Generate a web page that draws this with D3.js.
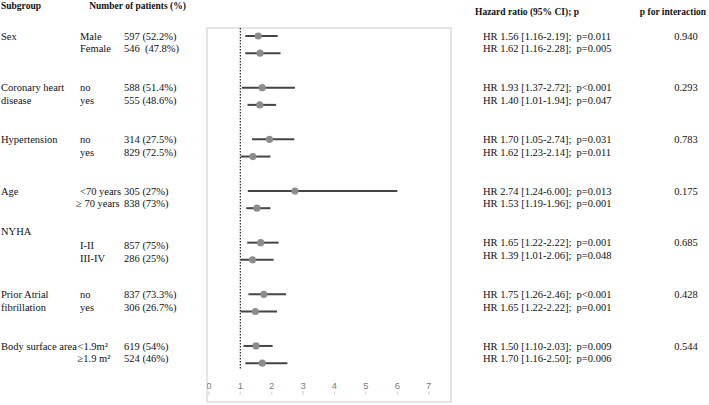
<!DOCTYPE html>
<html>
<head>
<meta charset="utf-8">
<script src="https://cdn.jsdelivr.net/npm/d3@7"></script>
<style>
  body { margin: 0; background: #fff; }
  text { font-family: "Liberation Serif", "Times New Roman", serif; fill: #111; }
  .hdr { font-weight: 700; font-size: 9.5px; }
  .body { font-size: 10.5px; }
  .tick-label { font-family: "Liberation Sans", Arial, sans-serif; font-size: 9.5px; fill: #7c7c7c; }
</style>
</head>
<body>
<svg id="chart" width="709" height="405"></svg>
<script>
// Subgruppernas rubriker (en rad per element)
const groupLabels = [
  ["Sex"],
  ["Coronary heart", "disease"],
  ["Hypertension"],
  ["Age"],
  ["NYHA"],
  ["Prior Atrial", "fibrillation"],
  ["Body surface area"]
];
const levelLabels = [
  ["Male", "Female"],
  ["no", "yes"],
  ["no", "yes"],
  ["<70 years", "\u2265 70 years"],
  ["I-II", "III-IV"],
  ["no", "yes"],
  ["<1.9m\u00b2", "\u22651.9 m\u00b2"]
];
const patientCounts = [
  ["597 (52.2%)", "546  (47.8%)"],
  ["588 (51.4%)", "555 (48.6%)"],
  ["314 (27.5%)", "829 (72.5%)"],
  ["305 (27%)", "838 (73%)"],
  ["857 (75%)", "286 (25%)"],
  ["837 (73.3%)", "306 (26.7%)"],
  ["619 (54%)", "524 (46%)"]
];
const hrTexts = [
  ["HR 1.56 [1.16-2.19];  p=0.011", "HR 1.62 [1.16-2.28];  p=0.005"],
  ["HR 1.93 [1.37-2.72];  p<0.001", "HR 1.40 [1.01-1.94];  p=0.047"],
  ["HR 1.70 [1.05-2.74];  p=0.031", "HR 1.62 [1.23-2.14];  p=0.011"],
  ["HR 2.74 [1.24-6.00];  p=0.013", "HR 1.53 [1.19-1.96];  p=0.001"],
  ["HR 1.65 [1.22-2.22];  p=0.001", "HR 1.39 [1.01-2.06];  p=0.048"],
  ["HR 1.75 [1.26-2.46];  p<0.001", "HR 1.65 [1.22-2.22];  p=0.001"],
  ["HR 1.50 [1.10-2.03];  p=0.009", "HR 1.70 [1.16-2.50];  p=0.006"]
];
const pInteraction = ["0.940", "0.293", "0.783", "0.175", "0.685", "0.428", "0.544"];

// Värden som de är ritade i diagrammet
const hrPoint = [1.57, 1.63, 1.70, 1.62, 1.93, 1.40, 2.74, 1.53, 1.65, 1.39, 1.75, 1.48, 1.50, 1.70];
const ciLower = [1.16, 1.16, 1.05, 1.23, 1.37, 1.01, 1.24, 1.19, 1.22, 1.01, 1.26, 1.01, 1.10, 1.16];
const ciUpper = [2.19, 2.28, 2.74, 2.14, 2.72, 1.96, 6.00, 1.96, 2.22, 2.06, 2.46, 2.17, 2.03, 2.50];
const xTicks = [0, 1, 2, 3, 4, 5, 6, 7];

const svg = d3.select("#chart");
svg.append("rect").attr("width", 709).attr("height", 405).attr("fill", "#fff");

const box = { x0: 207, y0: 28, x1: 451, y1: 402 };
const x = d3.scaleLinear().domain([0, 7]).range([208.9, 428.7]);
// 3 platser per grupp: två rader + mellanrum
const y = d3.scaleLinear().domain([0, 20]).range([36, 36 + 17.22 * 20]);
const lineGap = 12.8;

// Rubriker
svg.append("text").attr("class", "hdr").attr("x", 1).attr("y", 8.5).text("Subgroup");
svg.append("text").attr("class", "hdr").attr("x", 137.5).attr("y", 8.5)
  .attr("text-anchor", "middle").text("Number of patients (%)");
svg.append("text").attr("class", "hdr").attr("x", 527).attr("y", 15)
  .attr("text-anchor", "middle").text("Hazard ratio (95% CI); p");
svg.append("text").attr("class", "hdr").attr("x", 673).attr("y", 15)
  .attr("text-anchor", "middle").text("p for interaction");

// Textkolumner
groupLabels.forEach((lines, g) => {
  const base = y(g * 3);
  const isNyha = lines[0] === "NYHA";
  const rowBase = isNyha ? base + 2.5 : base;

  lines.forEach((t, k) => {
    svg.append("text").attr("class", "body")
      .attr("x", 1).attr("y", (isNyha ? base - 11.5 : base) + k * lineGap)
      .attr("dy", "0.35em").text(t);
  });

  levelLabels[g].forEach((t, k) => {
    let lx = 80;
    if (t.startsWith("\u2265 70")) lx = 76;
    if (t.includes("1.9")) lx = 77.5;
    svg.append("text").attr("class", "body")
      .attr("x", lx).attr("y", rowBase + k * lineGap)
      .attr("dy", "0.35em").text(t);
  });

  patientCounts[g].forEach((t, k) => {
    svg.append("text").attr("class", "body").style("white-space", "pre")
      .attr("x", 124).attr("y", rowBase + k * lineGap)
      .attr("dy", "0.35em").text(t);
  });

  hrTexts[g].forEach((t, k) => {
    svg.append("text").attr("class", "body").style("white-space", "pre")
      .attr("x", 483).attr("y", base + k * lineGap)
      .attr("dy", "0.35em").text(t);
  });

  svg.append("text").attr("class", "body")
    .attr("x", 686).attr("y", base)
    .attr("text-anchor", "middle").attr("dy", "0.35em").text(pInteraction[g]);
});

// Diagramram
svg.append("defs").append("clipPath").attr("id", "plot-clip")
  .append("rect").attr("x", box.x0).attr("y", box.y0)
  .attr("width", box.x1 - box.x0).attr("height", box.y1 - box.y0);

svg.append("rect")
  .attr("x", box.x0).attr("y", box.y0)
  .attr("width", box.x1 - box.x0).attr("height", box.y1 - box.y0)
  .attr("fill", "none").attr("stroke", "#d4d4d4").attr("stroke-width", 1.2);

const plot = svg.append("g").attr("clip-path", "url(#plot-clip)");

// Referenslinje vid HR = 1
plot.append("line")
  .attr("x1", x(1)).attr("x2", x(1))
  .attr("y1", box.y0).attr("y2", 370)
  .attr("stroke", "#111").attr("stroke-width", 1.1)
  .attr("stroke-dasharray", "1.6,1.4");

const rowIdx = hrPoint.map((_, i) => Math.floor(i / 2) * 3 + (i % 2));

plot.selectAll("line.ci")
  .data(hrPoint)
  .join("line")
  .attr("class", "ci")
  .attr("x1", (d, i) => x(ciLower[i]))
  .attr("x2", (d, i) => x(ciUpper[i]))
  .attr("y1", (d, i) => y(rowIdx[i]))
  .attr("y2", (d, i) => y(rowIdx[i]))
  .attr("stroke", "#444").attr("stroke-width", 2);

plot.selectAll("circle.hr")
  .data(hrPoint)
  .join("circle")
  .attr("class", "hr")
  .attr("cx", d => x(d))
  .attr("cy", (d, i) => y(rowIdx[i]))
  .attr("r", 3.6)
  .attr("fill", "#8c8c8c");

// X-axelns etiketter
plot.selectAll("text.tick-label")
  .data(xTicks)
  .join("text")
  .attr("class", "tick-label")
  .attr("x", d => x(d))
  .attr("y", 389)
  .attr("text-anchor", "middle")
  .text(d => d);

plot.selectAll("line.tick-ghost")
  .data(xTicks)
  .join("line")
  .attr("class", "tick-ghost")
  .attr("x1", d => x(d)).attr("x2", d => x(d))
  .attr("y1", 391.5).attr("y2", 394.5)
  .attr("stroke", "#d0d0d0").attr("stroke-width", 1.2);
</script>
</body>
</html>
